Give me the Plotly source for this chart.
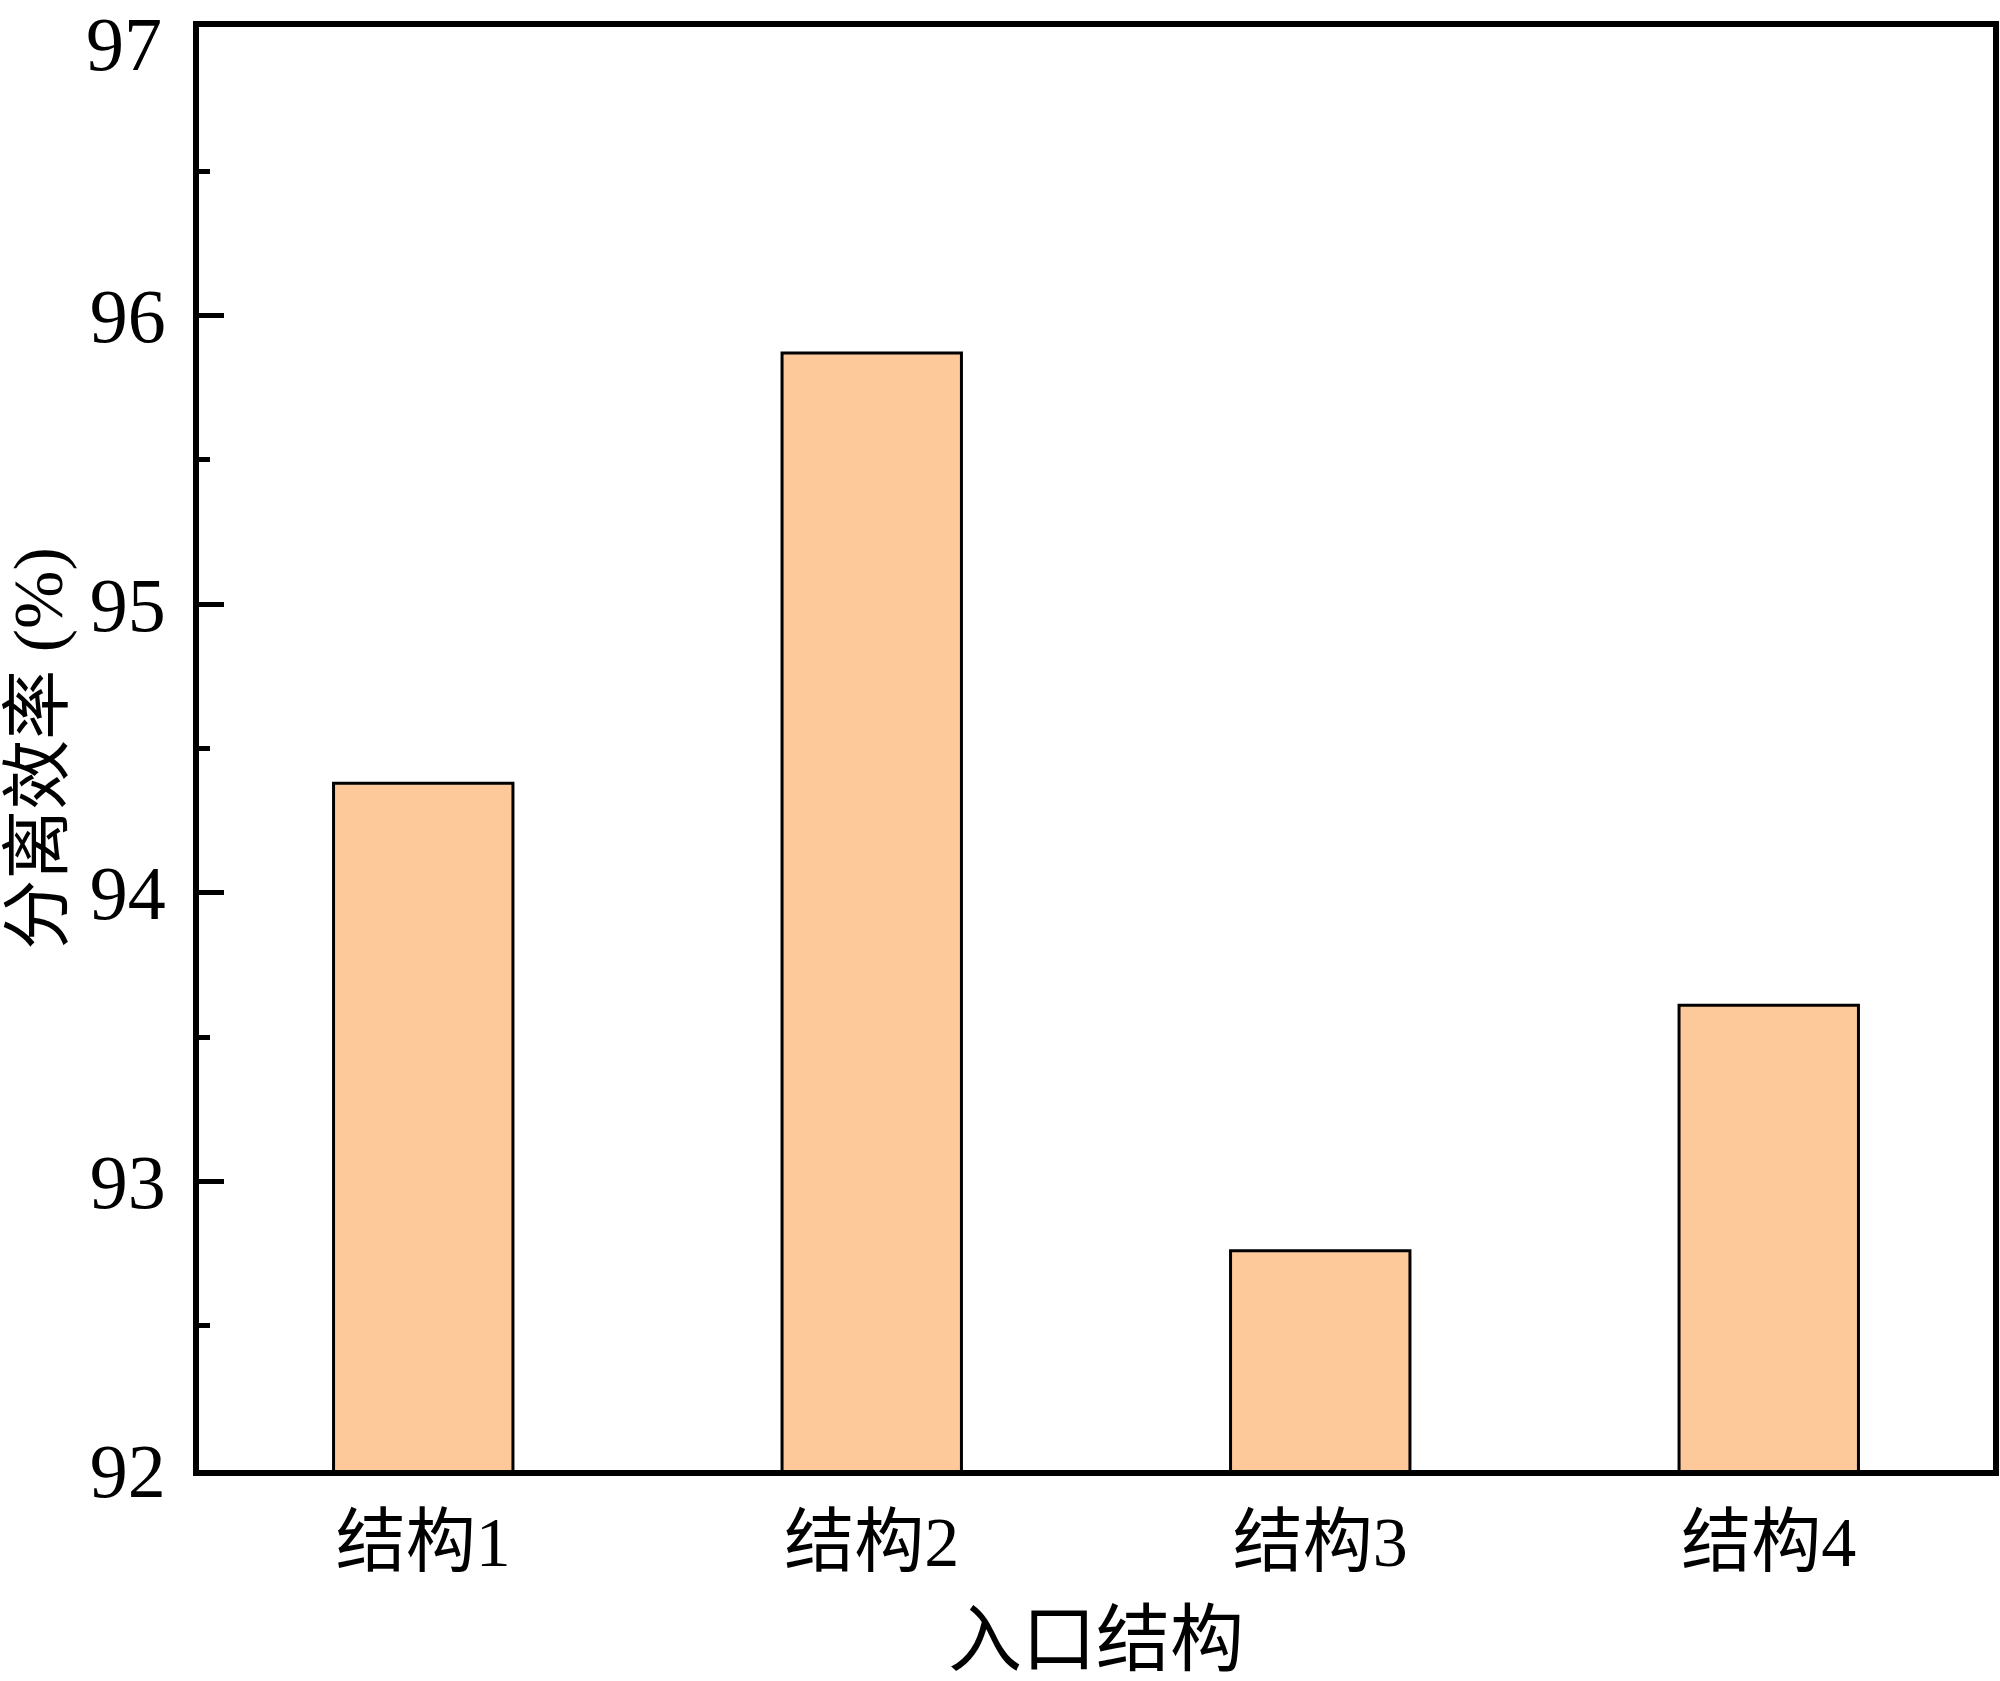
import plotly.graph_objects as go

categories = ["结构1", "结构2", "结构3", "结构4"]
efficiency = [94.38, 95.87, 92.76, 93.61]
y_ticks = [92, 93, 94, 95, 96, 97]
y_tick_labels = ["92", "93", "94", "95", "96", "97"]

FONT = "Liberation Serif, Noto Sans CJK SC, serif"

fig = go.Figure(go.Bar(
    x=categories,
    y=efficiency,
    marker=dict(color="#FDC89A", line=dict(color="black", width=3)),
    width=0.4,
))

fig.update_layout(
    width=2000, height=1681,
    margin=dict(l=199, r=7, t=27, b=211),
    paper_bgcolor="white", plot_bgcolor="white",
    showlegend=False,
    font=dict(family=FONT, color="black", size=64),
)

fig.update_xaxes(
    showline=True, linecolor="black", linewidth=6, mirror=True,
    ticks="", showgrid=False, range=[-0.5, 3.5],
    automargin=False,
    tickfont=dict(size=70, family=FONT),
    ticklabelstandoff=6,
    title=dict(text="入口结构", font=dict(size=74, family=FONT), standoff=46),
)

# the top tick label (97) sits at the very top edge; draw it as an annotation
# kept inside the canvas so it is not clipped
tick_text = y_tick_labels[:-1] + [""]
fig.update_yaxes(
    range=[y_ticks[0], y_ticks[-1]], tickvals=y_ticks, ticktext=tick_text,
    showline=True, linecolor="black", linewidth=6, mirror=True,
    ticks="inside", ticklen=25, tickwidth=5, tickcolor="black",
    minor=dict(ticks="inside", ticklen=11, tickwidth=5, dtick=0.5, tickcolor="black"),
    showgrid=False, zeroline=False,
    automargin=False,
    tickfont=dict(size=76, family=FONT),
    ticklabelstandoff=12,
    title=dict(text="分离效率 (%)", font=dict(size=70, family=FONT), standoff=31),
)

fig.add_annotation(
    text=y_tick_labels[-1], xref="paper", yref="paper", x=0, y=1,
    xanchor="right", yanchor="top", xshift=-35, yshift=27,
    showarrow=False, font=dict(size=76, family=FONT, color="black"),
)

fig.write_html(
    "out.html",
    config={"displayModeBar": False},
    post_script="document.body.style.margin='0';document.body.style.overflow='hidden';",
)
